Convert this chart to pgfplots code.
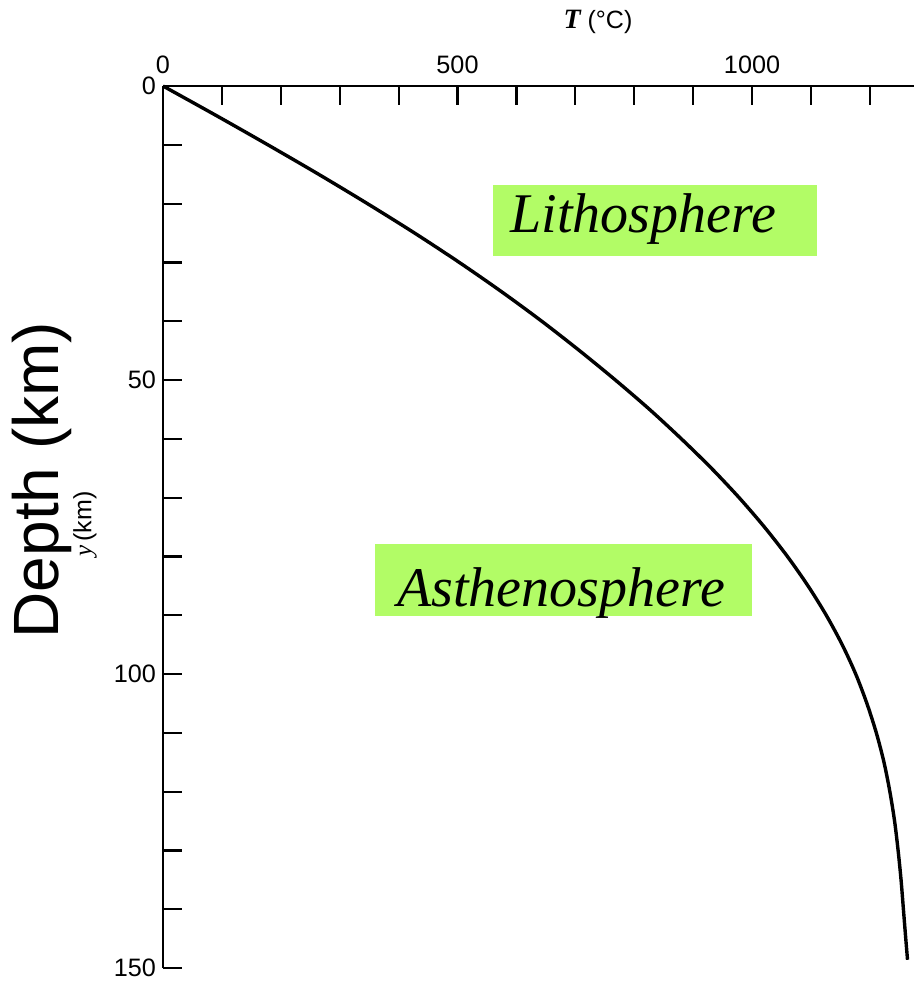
\documentclass[border=0pt]{standalone}
\usepackage{pgfplots}
\pgfplotsset{compat=1.18}
\usepackage{fontspec}
\newfontfamily\lsans{Liberation Sans}
\newfontfamily\lserif{Liberation Serif}
\definecolor{boxgreen}{RGB}{178,252,102}

\begin{document}
\begin{tikzpicture}
\begin{axis}[
  scale only axis, width=375.5pt, height=441pt,
  xmin=0, xmax=1275, ymin=0, ymax=150,
  y dir=reverse,
  axis x line*=top, axis y line*=left,
  axis line style={line width=1.4pt},
  xtick={0,500,1000},
  minor xtick={100,200,300,400,600,700,800,900,1100,1200},
  ytick={0,50,100,150},
  minor ytick={10,20,30,40,60,70,80,90,110,120,130,140},
  tick align=inside,
  major tick length=9.5pt, minor tick length=9.5pt,
  tick style={black, line width=1.1pt},
  ticklabel style={font=\lsans\fontsize{12.6}{14}\selectfont},
  xticklabel style={yshift=2.5pt},
  /pgf/number format/assume math mode=true,
  /pgf/number format/1000 sep={},
  clip=false,
]
\addplot[black, line width=1.7pt, smooth] table[x=T, y=d] {
d T
0 0
5 90
10 178
15 264
20 347
25 427
30 503
35 575
40 643
45 707
50 768
55 826
60 880
65 931
70 978
75 1021
80 1060
85 1095
90 1126
95 1153
100 1176
105 1195
110 1211
115 1224
120 1234
125 1242
130 1248
135 1253
140 1257
145 1261
148.6 1264
};
\coordinate (O) at (axis cs:0,0);
\end{axis}
\begin{scope}[x=0.5pt, y=-0.5pt, shift={(O)}, shift={(-163,-86)}]
  \fill[boxgreen] (493,185) rectangle (817,256);
  \node[anchor=base west, inner sep=0pt, font=\lserif\fontsize{28}{32}\selectfont\itshape] at (510,233) {Lithosphere};
  \fill[boxgreen] (375,544) rectangle (752,616);
  \node[anchor=base west, inner sep=0pt, font=\lserif\fontsize{28}{32}\selectfont\itshape] at (397,607) {Asthenosphere};
  \node[rotate=90, inner sep=0pt, font=\lsans\fontsize{32}{36}\selectfont] at (42,480) {Depth (km)};
  \node[rotate=90, inner sep=0pt, font=\lsans\fontsize{12.5}{14}\selectfont] at (85,524) {{\lserif\itshape y}\,(km)};
  \node[inner sep=0pt, font=\lsans\fontsize{12.5}{14}\selectfont] at (598,22) {{\lserif\fontsize{14}{16}\selectfont\bfseries\itshape T} (°C)};
  \pgfresetboundingbox
  \path[use as bounding box] (0,0) rectangle (914,981);
\end{scope}
\end{tikzpicture}
\end{document}
